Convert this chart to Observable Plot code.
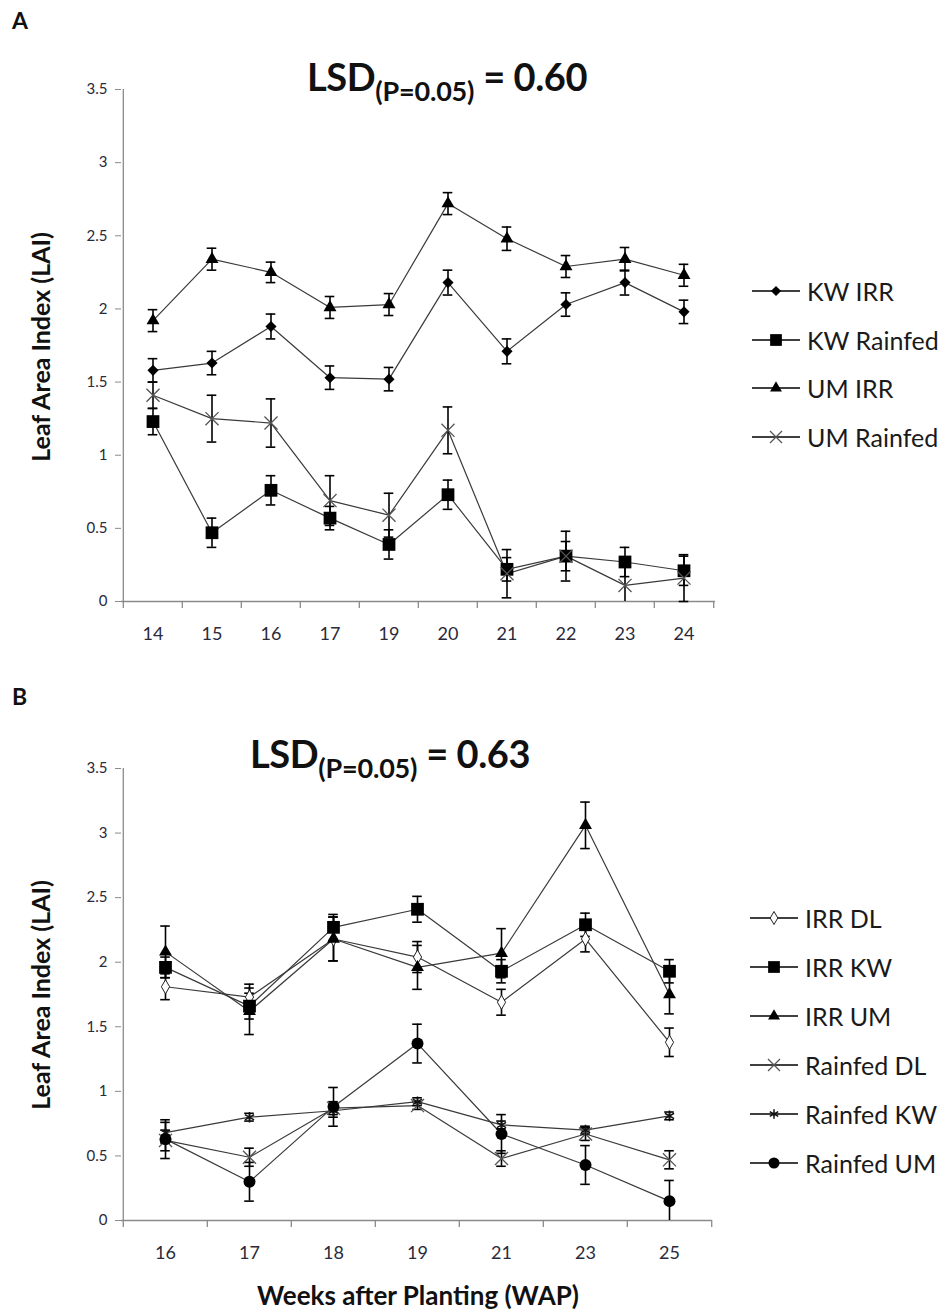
<!DOCTYPE html>
<html>
<head>
<meta charset="utf-8">
<script src="https://cdn.jsdelivr.net/npm/d3@7"></script>
<script src="https://cdn.jsdelivr.net/npm/@observablehq/plot@0.6"></script>
<style>
  html, body { margin: 0; padding: 0; background: #fff; }
  #page { position: relative; width: 946px; height: 1312px; background: #fff; font-family: Lato, "Open Sans", sans-serif; color: #111; overflow: hidden; }
  .abs { position: absolute; }
  .panel-letter { font-weight: 700; font-size: 23px; }
  .lsd { font-weight: 700; font-size: 38px; white-space: nowrap; letter-spacing: -0.4px; }
  .lsd sub { font-size: 27px; vertical-align: -10px; line-height: 0; letter-spacing: -0.2px; }
  .ylab { font-weight: 700; font-size: 25px; white-space: nowrap; transform: translate(-50%, -50%) rotate(-90deg); }
  .xlab { font-weight: 700; font-size: 26px; white-space: nowrap; transform: translate(-50%, -50%); }
  .leg-item { display: flex; align-items: center; height: 28px; font-size: 25px; white-space: nowrap; color: #1a1a1a; }
  .leg-item svg { margin-right: 6px; }
</style>
</head>
<body>
<div id="page"></div>
<script>
// ---------- Data: Panel A ----------
const weeksA = ["14", "15", "16", "17", "19", "20", "21", "22", "23", "24"];
const kwIrrA      = [1.58, 1.63, 1.88, 1.53, 1.52, 2.18, 1.71, 2.03, 2.18, 1.98];
const kwIrrAErr   = [0.08, 0.08, 0.085, 0.08, 0.08, 0.085, 0.085, 0.08, 0.085, 0.08];
const kwRainA     = [1.23, 0.47, 0.76, 0.57, 0.39, 0.73, 0.22, 0.31, 0.27, 0.21];
const kwRainAErr  = [0.09, 0.10, 0.10, 0.08, 0.10, 0.10, 0.08, 0.10, 0.10, 0.10];
const umIrrA      = [1.92, 2.34, 2.25, 2.01, 2.03, 2.72, 2.48, 2.29, 2.34, 2.23];
const umIrrAErr   = [0.075, 0.075, 0.07, 0.075, 0.075, 0.075, 0.08, 0.075, 0.08, 0.075];
const umRainA     = [1.41, 1.25, 1.22, 0.69, 0.59, 1.17, 0.19, 0.31, 0.11, 0.16];
const umRainAErr  = [0.09, 0.16, 0.165, 0.17, 0.15, 0.16, 0.165, 0.17, 0.19, 0.16];
const lsdA = "0.60";

// ---------- Data: Panel B ----------
const weeksB = ["16", "17", "18", "19", "21", "23", "25"];
const irrDL      = [1.81, 1.73, 2.18, 2.04, 1.69, 2.18, 1.38];
const irrDLErr   = [0.10, 0.10, 0.17, 0.12, 0.10, 0.10, 0.11];
const irrKW      = [1.96, 1.66, 2.27, 2.41, 1.93, 2.29, 1.93];
const irrKWErr   = [0.08, 0.10, 0.10, 0.10, 0.09, 0.09, 0.09];
const irrUM      = [2.08, 1.62, 2.18, 1.96, 2.07, 3.06, 1.75];
const irrUMErr   = [0.20, 0.18, 0.17, 0.17, 0.19, 0.18, 0.15];
const rainDL     = [0.62, 0.49, 0.87, 0.89, 0.48, 0.67, 0.47];
const rainDLErr  = [0.08, 0.07, 0.05, 0.03, 0.06, 0.05, 0.07];
const rainKW     = [0.68, 0.80, 0.85, 0.92, 0.74, 0.70, 0.81];
const rainKWErr  = [0.08, 0.03, 0.05, 0.03, 0.03, 0.03, 0.03];
const rainUM     = [0.63, 0.30, 0.88, 1.37, 0.67, 0.43, 0.15];
const rainUMErr  = [0.15, 0.15, 0.15, 0.15, 0.15, 0.15, 0.16];
const lsdB = "0.63";

// ---------- Tick labels / text ----------
const yTicks = [0, 0.5, 1, 1.5, 2, 2.5, 3, 3.5];
const yLabel = "Leaf Area Index (LAI)";
const xLabel = "Weeks after Planting (WAP)";

// ---------- Series definitions ----------
const seriesA = [
  {name: "KW IRR",     values: kwIrrA,  errs: kwIrrAErr,  symbol: "diamond2", r: 5,   fill: "#000", stroke: "none"},
  {name: "KW Rainfed", values: kwRainA, errs: kwRainAErr, symbol: "square",   r: 7.2, fill: "#000", stroke: "none"},
  {name: "UM IRR",     values: umIrrA,  errs: umIrrAErr,  symbol: "triangle", r: 4.8, fill: "#000", stroke: "none"},
  {name: "UM Rainfed", values: umRainA, errs: umRainAErr, symbol: "times",    r: 6,   fill: "none", stroke: "#555"}
];
const seriesB = [
  {name: "IRR DL",     values: irrDL,  errs: irrDLErr,  symbol: "diamond",  r: 4.3, fill: "#fff", stroke: "#222"},
  {name: "IRR KW",     values: irrKW,  errs: irrKWErr,  symbol: "square",   r: 7.2, fill: "#000", stroke: "none"},
  {name: "IRR UM",     values: irrUM,  errs: irrUMErr,  symbol: "triangle", r: 4.8, fill: "#000", stroke: "none"},
  {name: "Rainfed DL", values: rainDL, errs: rainDLErr, symbol: "times",    r: 6,   fill: "none", stroke: "#555"},
  {name: "Rainfed KW", values: rainKW, errs: rainKWErr, symbol: "asterisk", r: 5,   fill: "none", stroke: "#111"},
  {name: "Rainfed UM", values: rainUM, errs: rainUMErr, symbol: "circle",   r: 6,   fill: "#000", stroke: "none"}
];

const FONT = "Lato, 'Open Sans', sans-serif";
const page = document.getElementById("page");

function addDiv(cls, html, left, top) {
  const d = document.createElement("div");
  d.className = "abs " + cls;
  d.innerHTML = html;
  d.style.left = left + "px";
  d.style.top = top + "px";
  page.appendChild(d);
  return d;
}

function panel(weeks, series, cfg) {
  const rows = [];
  for (const s of series) {
    s.values.forEach((v, i) => rows.push({series: s.name, week: weeks[i], value: v, err: s.errs[i]}));
  }
  const W = cfg.width, ml = 121, mr = cfg.marginRight;
  const step = (W - ml - mr) / weeks.length;
  const capInset = step / 2 - 5;
  const gray = "#8a8a8a";
  const marks = [
    Plot.axisY({ticks: yTicks, tickFormat: d => String(d), tickSize: 6, tickPadding: 8, stroke: gray, fill: "#2a2a3a", fontSize: 15, label: null}),
    Plot.axisX({tickSize: 0, tickPadding: 26, fill: "#2a2a3a", fontSize: 18, label: null}),
    Plot.ruleY([0], {stroke: gray, strokeWidth: 1.3}),
    Plot.ruleX([weeks[0]], {dx: -step / 2, stroke: gray, strokeWidth: 1.3}),
    Plot.ruleX(weeks, {x: d => d, y1: 0, y2: 0, dx: -step / 2, insetBottom: -7, stroke: gray, strokeWidth: 1.3}),
    Plot.ruleX([weeks[weeks.length - 1]], {y1: 0, y2: 0, dx: step / 2, insetBottom: -7, stroke: gray, strokeWidth: 1.3}),
    Plot.line(rows, {x: "week", y: "value", z: "series", stroke: "#3a3a3a", strokeWidth: 1.2}),
    Plot.ruleX(rows, {x: "week", y1: d => Math.max(0, d.value - d.err), y2: d => d.value + d.err, stroke: "#000", strokeWidth: 1.6}),
    Plot.tickY(rows, {x: "week", y: d => d.value + d.err, insetLeft: capInset, insetRight: capInset, stroke: "#000", strokeWidth: 1.6}),
    Plot.tickY(rows.filter(d => d.value - d.err >= 0), {x: "week", y: d => d.value - d.err, insetLeft: capInset, insetRight: capInset, stroke: "#000", strokeWidth: 1.6})
  ];
  for (const s of series) {
    marks.push(Plot.dot(rows.filter(d => d.series === s.name), {
      x: "week", y: "value", symbol: s.symbol, r: s.r,
      fill: s.fill, stroke: s.stroke, strokeWidth: s.symbol === "times" ? 1.3 : (s.symbol === "asterisk" ? 1.5 : 1)
    }));
  }
  return Plot.plot({
    width: W, height: cfg.height,
    marginLeft: ml, marginRight: mr, marginTop: cfg.marginTop, marginBottom: cfg.marginBottom,
    style: {fontFamily: FONT, background: "transparent", overflow: "visible"},
    x: {type: "band", domain: weeks, padding: 0, axis: null},
    y: {domain: [0, 3.5], axis: null},
    marks
  });
}

function legend(series, left, top, gap) {
  const box = document.createElement("div");
  box.className = "abs";
  box.style.left = left + "px";
  box.style.top = top + "px";
  const symMap = {diamond2: d3.symbolDiamond2, diamond: d3.symbolDiamond, square: d3.symbolSquare,
    triangle: d3.symbolTriangle, times: d3.symbolTimes, asterisk: d3.symbolAsterisk, circle: d3.symbolCircle};
  series.forEach((s, i) => {
    const item = document.createElement("div");
    item.className = "leg-item";
    item.style.marginTop = (i === 0 ? 0 : gap - 28) + "px";
    const svg = d3.create("svg").attr("width", 50).attr("height", 20);
    svg.append("line").attr("x1", 1).attr("x2", 49).attr("y1", 10).attr("y2", 10).attr("stroke", "#000").attr("stroke-width", 1.3);
    svg.append("path").attr("transform", "translate(25,10)")
      .attr("d", d3.symbol(symMap[s.symbol], Math.PI * (s.r * 0.92) ** 2)())
      .attr("fill", s.fill).attr("stroke", s.stroke)
      .attr("stroke-width", s.symbol === "times" ? 1.3 : (s.symbol === "asterisk" ? 1.5 : 1));
    item.appendChild(svg.node());
    const t = document.createElement("span");
    t.textContent = s.name;
    item.appendChild(t);
    box.appendChild(item);
  });
  page.appendChild(box);
}

// ---------- Panel A ----------
addDiv("panel-letter", "A", 12, 6);
addDiv("lsd", "LSD<sub>(P=0.05)</sub> = " + lsdA, 307, 53);
const svgA = panel(weeksA, seriesA, {width: 730, height: 571, marginRight: 15, marginTop: 9, marginBottom: 50});
svgA.style.position = "absolute"; svgA.style.left = "0px"; svgA.style.top = "80px";
page.appendChild(svgA);
addDiv("ylab", yLabel, 40, 347);
legend(seriesA, 751, 277, 48.5);

// ---------- Panel B ----------
addDiv("panel-letter", "B", 12, 682);
addDiv("lsd", "LSD<sub>(P=0.05)</sub> = " + lsdB, 250, 730);
const svgB = panel(weeksB, seriesB, {width: 730, height: 510, marginRight: 18, marginTop: 8, marginBottom: 50});
svgB.style.position = "absolute"; svgB.style.left = "0px"; svgB.style.top = "760px";
page.appendChild(svgB);
addDiv("ylab", yLabel, 40, 995);
addDiv("xlab", xLabel, 418, 1295);
legend(seriesB, 749, 904, 49);
</script>
</body>
</html>
